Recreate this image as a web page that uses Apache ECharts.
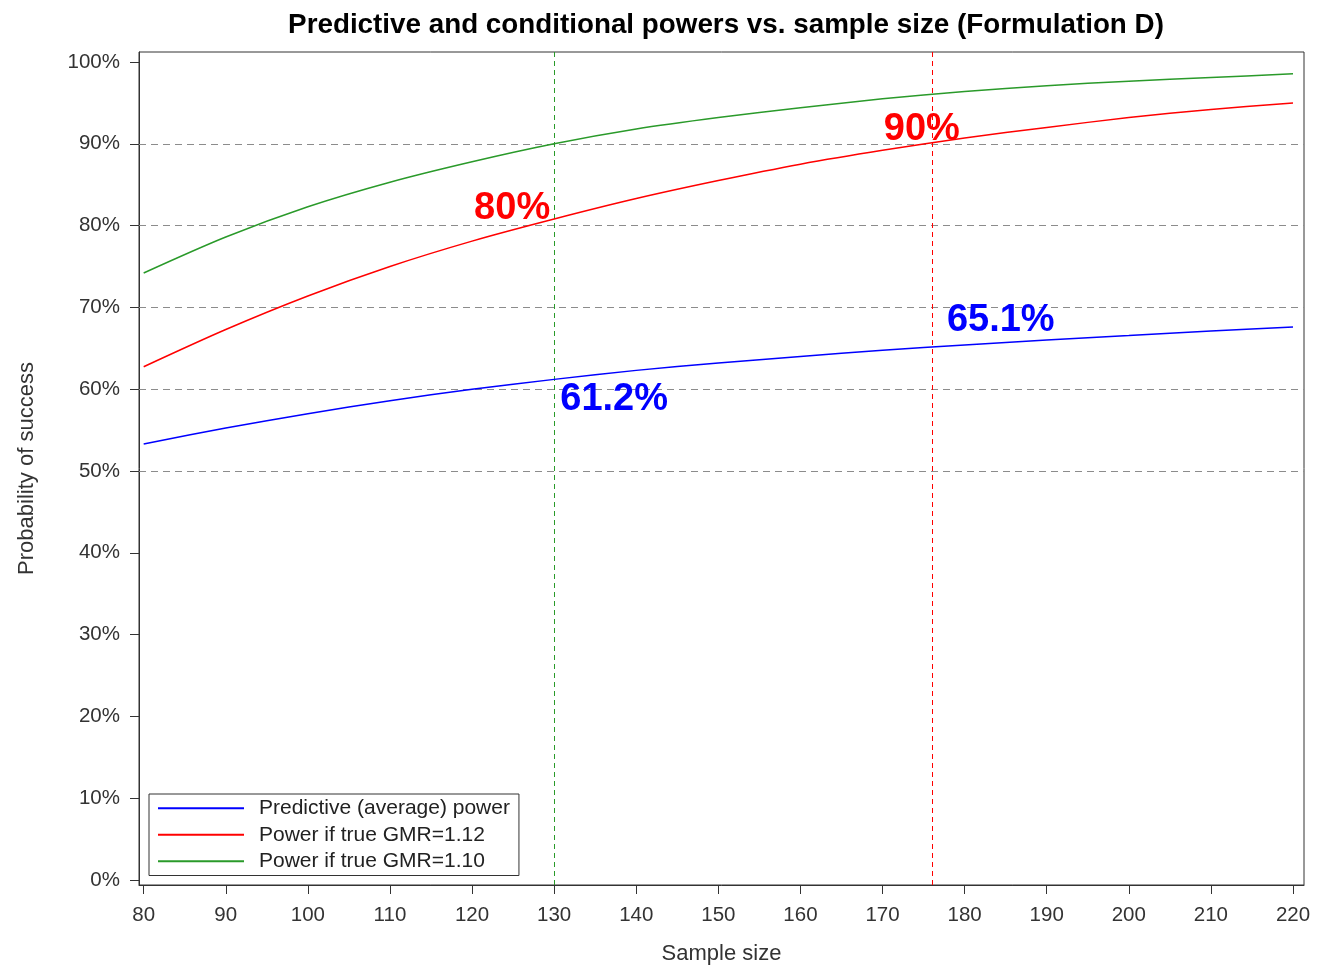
<!DOCTYPE html>
<html>
<head>
<meta charset="utf-8">
<script src="https://cdn.jsdelivr.net/npm/echarts@6.0.0/dist/echarts.min.js"></script>
<style>
html,body{margin:0;padding:0;background:#fff;}
#chart{width:1327px;height:966px;}
</style>
</head>
<body>
<div id="chart"></div>
<script>
// ---- data ----
const sampleSize   = [80, 90, 100, 110, 120, 130, 140, 150, 160, 170, 180, 190, 200, 210, 220];
const predictive   = [53.3, 55.25, 57.0, 58.6, 60.0, 61.2, 62.3, 63.2, 64.0, 64.75, 65.4, 66.0, 66.55, 67.1, 67.6];
const powerGMR112  = [62.75, 67.3, 71.4, 75.0, 78.1, 80.8, 83.3, 85.5, 87.5, 89.2, 90.7, 92.0, 93.2, 94.2, 95.0];
const powerGMR110  = [74.2, 78.6, 82.3, 85.3, 87.8, 90.0, 91.8, 93.2, 94.4, 95.5, 96.4, 97.1, 97.65, 98.1, 98.55];
const seriesNames  = ['Predictive (average) power', 'Power if true GMR=1.12', 'Power if true GMR=1.10'];
const xTicks       = [80, 90, 100, 110, 120, 130, 140, 150, 160, 170, 180, 190, 200, 210, 220];
const yTicks       = [0, 10, 20, 30, 40, 50, 60, 70, 80, 90, 100];
const refLevels    = [50, 60, 70, 80, 90];
const refSizes     = [130, 176];
const annotX       = [130, 176, 130, 176];
const annotY       = [80, 90, 61.2, 65.1];
const annotText    = ['80%', '90%', '61.2%', '65.1%'];

// ---- styles ----
const FONT = "'Liberation Sans', Arial, sans-serif";
const colors = ['#0000ff', '#ff0000', '#2a9a2a'];
const refColors = ['#2a9a2a', '#ff0000'];
const annotColors = ['#ff0000', '#ff0000', '#0000ff', '#0000ff'];
const annotOffsets = [[-42, -17], [-10, -14], [60, 20], [69, -27]];

const chart = echarts.init(document.getElementById('chart'), null, {renderer: 'canvas'});

const lineSeries = [predictive, powerGMR112, powerGMR110].map((vals, i) => ({
  name: seriesNames[i],
  type: 'line',
  data: sampleSize.map((x, j) => [x, vals[j]]),
  symbol: 'none',
  showSymbol: false,
  smooth: 0.3,
  lineStyle: {color: colors[i], width: 1.5},
  itemStyle: {color: colors[i]},
  z: 5
}));

// reference lines
lineSeries[0].markLine = {
  silent: true,
  symbol: 'none',
  label: {show: false},
  animation: false,
  data: refLevels.map(v => ({yAxis: v, lineStyle: {color: '#8c8c8c', type: [7, 5], width: 1}}))
    .concat(refSizes.map((v, i) => ({xAxis: v, lineStyle: {color: refColors[i], type: [5, 4], width: 1}})))
};

const annotSeries = {
  name: 'annotations',
  type: 'scatter',
  symbolSize: 0,
  silent: true,
  z: 10,
  itemStyle: {opacity: 1},
  data: annotX.map((x, i) => ({
    value: [x, annotY[i]],
    label: {
      show: true,
      formatter: annotText[i],
      color: annotColors[i],
      opacity: 1,
      offset: annotOffsets[i],
      position: 'inside',
      align: 'center',
      verticalAlign: 'middle',
      fontFamily: FONT,
      fontWeight: 'bold',
      fontSize: 38
    }
  }))
};

const axisCommon = {
  axisLine: {show: true, onZero: false, lineStyle: {color: '#333', width: 1}},
  splitLine: {show: false},
  nameTextStyle: {fontFamily: FONT, fontSize: 22, color: '#333'}
};

const option = {
  animation: false,
  backgroundColor: '#fff',
  title: {
    text: 'Predictive and conditional powers vs. sample size (Formulation D)',
    left: 721,
    top: 6,
    textAlign: 'center',
    textStyle: {fontFamily: FONT, fontWeight: 'bold', fontSize: 27.8, color: '#000'}
  },
  grid: {
    left: 139, right: 23, top: 52, bottom: 81,
    show: true, borderColor: '#333', borderWidth: 1,
    containLabel: false, outerBoundsMode: 'none'
  },
  legend: {
    data: seriesNames.map(n => ({name: n, icon: 'path://M0,0H86V1.8H0Z'})),
    orient: 'vertical',
    left: 149,
    top: 794,
    padding: [1, 9, 1, 9],
    borderColor: '#333',
    borderWidth: 1,
    itemWidth: 86,
    itemHeight: 14,
    itemGap: 0,
    symbolKeepAspect: true,
    backgroundColor: '#fff',
    textStyle: {fontFamily: FONT, fontSize: 21, color: '#222', lineHeight: 26.5, padding: [0, 0, 0, 10]}
  },
  xAxis: Object.assign({}, axisCommon, {
    type: 'value',
    min: 79.43,
    max: 221.34,
    name: 'Sample size',
    nameLocation: 'middle',
    nameGap: 58,
    axisTick: {show: true, length: 9, customValues: xTicks, lineStyle: {color: '#333', width: 1}},
    axisLabel: {customValues: xTicks, margin: 20, fontFamily: FONT, fontSize: 20.5, color: '#333'}
  }),
  yAxis: Object.assign({}, axisCommon, {
    type: 'value',
    min: -0.61,
    max: 101.22,
    name: 'Probability of success',
    nameLocation: 'middle',
    nameRotate: 90,
    nameGap: 101,
    axisTick: {show: true, length: 9, customValues: yTicks, lineStyle: {color: '#333', width: 1}},
    axisLabel: {customValues: yTicks, margin: 19, fontFamily: FONT, fontSize: 20.5, color: '#333',
      formatter: v => v + '%'}
  }),
  series: lineSeries.concat([annotSeries])
};

chart.setOption(option);
</script>
</body>
</html>
